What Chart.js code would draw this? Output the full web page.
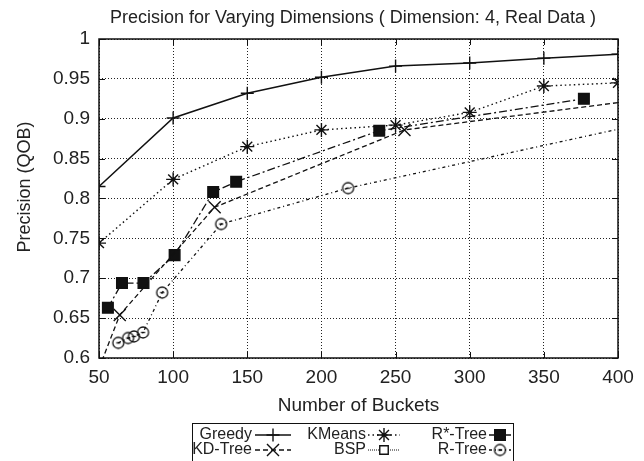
<!DOCTYPE html>
<html>
<head>
<meta charset="utf-8">
<script src="https://cdn.jsdelivr.net/npm/chart.js@4.4.0/dist/chart.umd.min.js"></script>
<style>
  html, body { margin: 0; padding: 0; background: #fff; }
</style>
</head>
<body>
<canvas id="chart" width="644" height="461"></canvas>
<script>
// axis ticks
const xTicks = [50, 100, 150, 200, 250, 300, 350, 400];
const yTicks = [0.6, 0.65, 0.7, 0.75, 0.8, 0.85, 0.9, 0.95, 1];

// series values
const greedyX = [50, 100, 150, 200, 250, 300, 350, 400];
const greedyY = [0.815, 0.901, 0.932, 0.952, 0.966, 0.970, 0.976, 0.981];

const kdX = [50, 64, 128, 256, 420];
const kdY = [0.587, 0.654, 0.789, 0.886, 0.925];

const kmeansX = [50, 100, 150, 200, 250, 300, 350, 400];
const kmeansY = [0.744, 0.824, 0.865, 0.886, 0.892, 0.908, 0.941, 0.945];

const bspX = [];
const bspY = [];

const rstarX = [56, 65.5, 80, 101, 127, 142.5, 239, 377];
const rstarY = [0.663, 0.694, 0.694, 0.729, 0.808, 0.821, 0.885, 0.925];

const rtreeX = [63, 69.6, 73.6, 79.7, 92.6, 132.4, 218, 420];
const rtreeY = [0.619, 0.625, 0.627, 0.632, 0.682, 0.768, 0.813, 0.895];

const FONT = "'Liberation Sans', Arial, Helvetica, sans-serif";
const INK = '#111';

function circleDot(r) {
    const c = document.createElement('canvas');
    const s = Math.ceil(2 * r + 4);
    c.width = s; c.height = s;
    const g = c.getContext('2d');
    g.strokeStyle = INK; g.lineWidth = 1.3;
    g.beginPath(); g.arc(s / 2, s / 2, r, 0, Math.PI * 2); g.stroke();
    g.fillStyle = INK;
    g.fillRect(s / 2 - 2, s / 2 - 0.7, 4, 1.4);
    return c;
}

const series = [
    { label: 'Greedy',  xs: greedyX, ys: greedyY, dash: [],           width: 1.5, style: 'cross',    r: 6.5, fill: INK },
    { label: 'KD-Tree', xs: kdX,     ys: kdY,     dash: [5, 3],       width: 1.3, style: 'crossRot', r: 8.5, fill: INK },
    { label: 'KMeans',  xs: kmeansX, ys: kmeansY, dash: [1.5, 3],     width: 1.4, style: 'star',     r: 7,   fill: INK },
    { label: 'BSP',     xs: bspX,    ys: bspY,    dash: [1, 1],       width: 1.2, style: 'rect',     r: 6,   fill: '#fff' },
    { label: 'R*-Tree', xs: rstarX,  ys: rstarY,  dash: [8, 3, 2, 3], width: 1.3, style: 'rect',     r: 7.5, fill: INK },
    { label: 'R-Tree',  xs: rtreeX,  ys: rtreeY,  dash: [3, 3, 1, 3], width: 1.3, style: circleDot(5.5), r: 5.5, fill: 'rgba(0,0,0,0)' }
];

function inRange(p) {
    return p && p.x >= xTicks[0] && p.x <= xTicks[xTicks.length - 1] &&
        p.y >= yTicks[0] && p.y <= yTicks[yTicks.length - 1];
}

const datasets = series.map(s => ({
    label: s.label,
    data: s.xs.map((x, i) => ({ x: x, y: s.ys[i] })),
    borderColor: INK,
    borderWidth: s.width,
    borderDash: s.dash,
    pointStyle: s.style,
    pointRadius: ctx => inRange(ctx.raw) ? s.r : 0,
    pointBorderColor: INK,
    pointBackgroundColor: s.fill,
    pointBorderWidth: 1.4,
    fill: false,
    tension: 0
}));

// frame, inward ticks, titles and boxed legend
const decorations = {
    id: 'decorations',
    afterDraw(chart) {
        const ctx = chart.ctx;
        const a = chart.chartArea;
        const xs = chart.scales.x, ys = chart.scales.y;
        ctx.save();
        ctx.strokeStyle = INK;
        ctx.lineWidth = 1;
        ctx.setLineDash([]);
        ctx.beginPath();
        xTicks.forEach(v => {
            const px = Math.round(xs.getPixelForValue(v)) + 0.5;
            ctx.moveTo(px, a.bottom); ctx.lineTo(px, a.bottom - 6);
            ctx.moveTo(px, a.top); ctx.lineTo(px, a.top + 6);
        });
        yTicks.forEach(v => {
            const py = Math.round(ys.getPixelForValue(v)) + 0.5;
            ctx.moveTo(a.left, py); ctx.lineTo(a.left + 6, py);
            ctx.moveTo(a.right, py); ctx.lineTo(a.right - 6, py);
        });
        ctx.stroke();
        ctx.lineWidth = 1.5;
        ctx.strokeRect(a.left, a.top, a.right - a.left, a.bottom - a.top);

        // title
        ctx.fillStyle = '#222';
        ctx.font = '18px ' + FONT;
        ctx.textAlign = 'center';
        ctx.textBaseline = 'middle';
        ctx.fillText('Precision for Varying Dimensions ( Dimension: 4, Real Data )', 353, 18);

        // y axis title
        ctx.save();
        ctx.translate(25, 187);
        ctx.rotate(-Math.PI / 2);
        ctx.font = '18px ' + FONT;
        ctx.fillText('Precision (QOB)', 0, 0);
        ctx.restore();

        // legend
        const cols = [
            { textRight: 252, x0: 255, x1: 291, mx: 273 },
            { textRight: 366, x0: 368, x1: 400, mx: 384 },
            { textRight: 487, x0: 489, x1: 511, mx: 500 }
        ];
        const rows = [435, 450];
        ctx.lineWidth = 1;
        ctx.strokeStyle = INK;
        ctx.strokeRect(192.5, 423.5, 321, 40);
        ctx.font = '16px ' + FONT;
        ctx.textAlign = 'right';
        series.forEach((s, i) => {
            const c = cols[Math.floor(i / 2)];
            const y = rows[i % 2];
            ctx.fillStyle = '#222';
            ctx.fillText(s.label, c.textRight, y);
            ctx.save();
            ctx.strokeStyle = INK;
            ctx.lineWidth = s.width;
            ctx.setLineDash(s.dash);
            ctx.beginPath();
            ctx.moveTo(c.x0, y); ctx.lineTo(c.x1, y);
            ctx.stroke();
            ctx.setLineDash([]);
            ctx.lineWidth = 1.4;
            ctx.fillStyle = s.fill;
            Chart.helpers.drawPoint(ctx, { pointStyle: s.style, radius: s.r, rotation: 0, borderWidth: 1.4 }, c.mx, y);
            ctx.restore();
        });
        ctx.restore();
    }
};

new Chart(document.getElementById('chart').getContext('2d'), {
    type: 'line',
    data: { datasets: datasets },
    plugins: [decorations],
    options: {
        responsive: false,
        animation: false,
        events: [],
        layout: { padding: { top: 39, right: 26, left: 0, bottom: 0 } },
        plugins: {
            legend: { display: false },
            title: { display: false },
            tooltip: { enabled: false }
        },
        scales: {
            x: {
                type: 'linear',
                min: xTicks[0],
                max: xTicks[xTicks.length - 1],
                afterBuildTicks: s => { s.ticks = xTicks.map(v => ({ value: v })); },
                afterFit: s => { s.height = 103; },
                grid: { color: '#222', lineWidth: 1, drawTicks: false },
                border: { display: false, dash: [1, 2] },
                ticks: {
                    padding: 8,
                    maxRotation: 0,
                    autoSkip: false,
                    color: '#222',
                    font: { family: FONT, size: 19 },
                    callback: v => String(v)
                },
                title: {
                    display: true,
                    text: 'Number of Buckets',
                    color: '#222',
                    font: { family: FONT, size: 19 },
                    padding: { top: 0, bottom: 44 }
                }
            },
            y: {
                type: 'linear',
                min: yTicks[0],
                max: yTicks[yTicks.length - 1],
                afterBuildTicks: s => { s.ticks = yTicks.map(v => ({ value: v })); },
                afterFit: s => { s.width = 99; },
                grid: { color: '#222', lineWidth: 1, drawTicks: false },
                border: { display: false, dash: [1, 2] },
                ticks: {
                    padding: 9,
                    color: '#222',
                    font: { family: FONT, size: 19 },
                    callback: v => String(+v.toFixed(2))
                }
            }
        }
    }
});
</script>
</body>
</html>
